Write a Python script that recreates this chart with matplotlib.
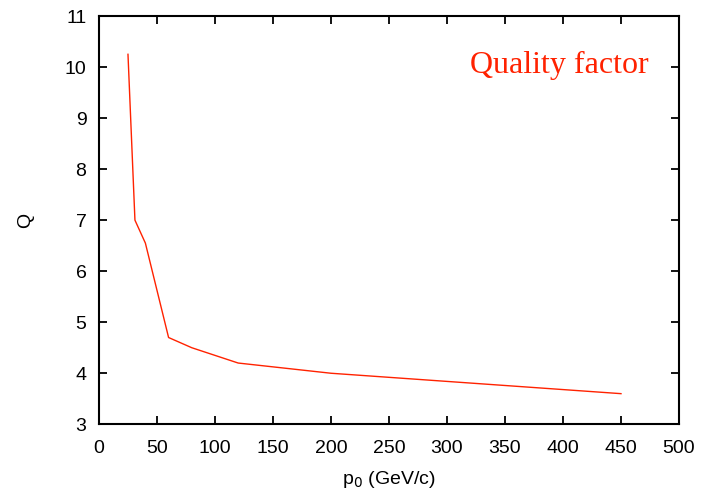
import matplotlib
matplotlib.use("Agg")
import matplotlib.pyplot as plt

# --- DATA ---
p0 = [25, 31, 40, 60, 80, 120, 200, 450]
quality = [10.25, 7.0, 6.55, 4.7, 4.5, 4.2, 4.0, 3.6]
x_ticks = [0, 50, 100, 150, 200, 250, 300, 350, 400, 450, 500]
y_ticks = [3, 4, 5, 6, 7, 8, 9, 10, 11]

plt.rcParams["font.family"] = ["Liberation Sans", "DejaVu Sans"]

fig = plt.figure(figsize=(7.01, 4.93), dpi=100)
ax = fig.add_axes([0.1412, 0.1394, 0.8274, 0.8281])

ax.plot(p0, quality, color="#ff2200", linewidth=1.0)

ax.set_xlim(0, 500)
ax.set_ylim(3, 11)
ax.set_xticks(x_ticks)
ax.set_yticks(y_ticks)
ax.tick_params(direction="in", length=6, width=1.3, top=True, right=True,
               labelsize=14)
ax.tick_params(axis="x", pad=11)
ax.tick_params(axis="y", pad=9)
for s in ax.spines.values():
    s.set_linewidth(1.5)

ax.set_xlabel("p$_0$ (GeV/c)", fontsize=14, labelpad=9)
ax.set_ylabel("Q", fontsize=14, labelpad=22, rotation=90)

ax.text(0.947, 0.878, "Quality factor", transform=ax.transAxes, ha="right",
        va="center", color="#ff2200", fontsize=23, family="Liberation Serif")

fig.savefig("out.png", dpi=100)
